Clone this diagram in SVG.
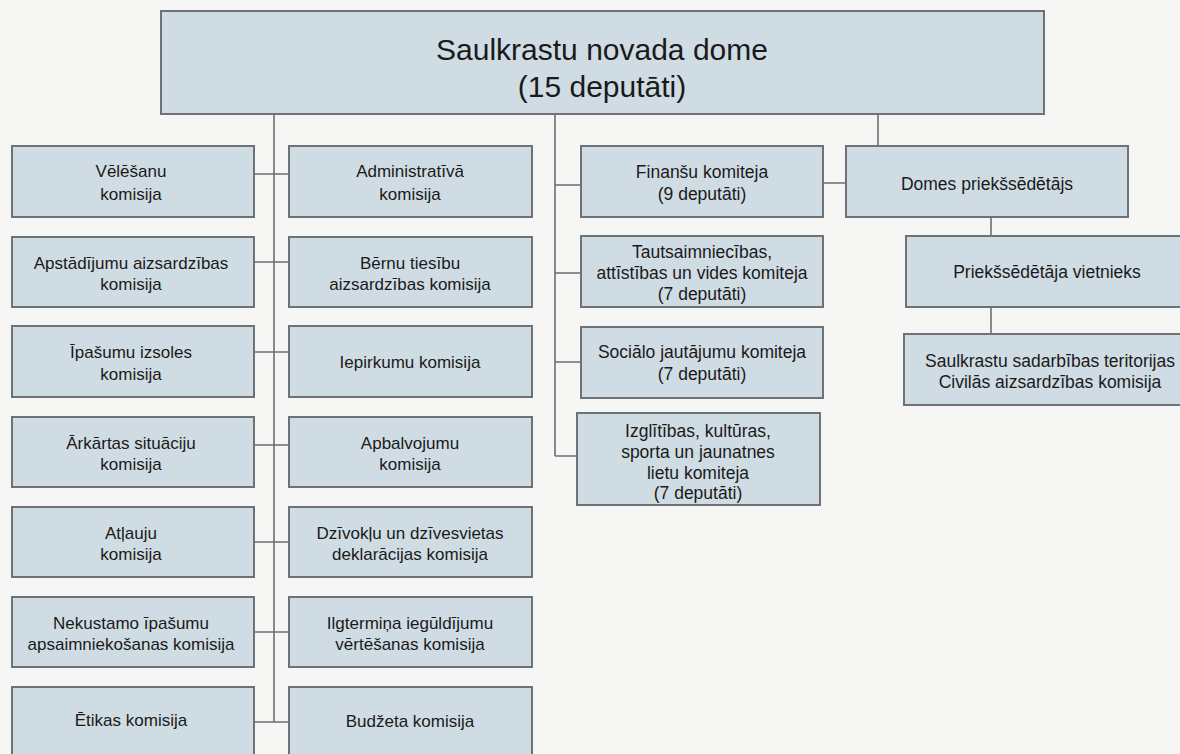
<svg xmlns="http://www.w3.org/2000/svg" width="1180" height="754" viewBox="0 0 1180 754">
<style>
.box{fill:#d0dce3;stroke:#6e7176;stroke-width:2}
.t{font-family:"Liberation Sans",Arial,sans-serif;font-size:17px;fill:#1a1a1a;text-anchor:middle}
.m{font-size:17.5px}
.title{font-size:30px}
.c{stroke:#6e6e6e;stroke-width:1.6;fill:none}
</style>
<rect width="1180" height="754" fill="#f6f6f4"/>
<g id="connectors">
<path class="c" d="M274 114V722M254 174H289M254 262H289M254 352H289M254 445H289M254 542H289M254 632H289M254 722H289"/>
<path class="c" d="M555 114V456M555 185H581M555 273H581M555 362H581M555 456H577"/>
<path class="c" d="M823 183H846M878 114V146M991 217V236M991 307V334"/>
</g>
<g id="dome"><rect class="box" x="161" y="11" width="883" height="103"/><text class="t title" x="602" y="60">Saulkrastu novada dome</text><text class="t title" x="602" y="97">(15 deputāti)</text></g>
<g id="velesanu"><rect class="box" x="12" y="146" width="242" height="71"/><text class="t" x="131" y="177">Vēlēšanu</text><text class="t" x="131" y="200">komisija</text></g>
<g id="apstadijumu"><rect class="box" x="12" y="237" width="242" height="70"/><text class="t" x="131" y="269">Apstādījumu aizsardzības</text><text class="t" x="131" y="290">komisija</text></g>
<g id="ipasumu"><rect class="box" x="12" y="326" width="242" height="71"/><text class="t" x="131" y="358">Īpašumu izsoles</text><text class="t" x="131" y="380">komisija</text></g>
<g id="arkartas"><rect class="box" x="12" y="417" width="242" height="70"/><text class="t" x="131" y="449">Ārkārtas situāciju</text><text class="t" x="131" y="470">komisija</text></g>
<g id="atlauju"><rect class="box" x="12" y="507" width="242" height="70"/><text class="t" x="131" y="539">Atļauju</text><text class="t" x="131" y="560">komisija</text></g>
<g id="nekustamo"><rect class="box" x="12" y="597" width="242" height="70"/><text class="t" x="131" y="629">Nekustamo īpašumu</text><text class="t" x="131" y="650">apsaimniekošanas komisija</text></g>
<g id="etikas"><rect class="box" x="12" y="687" width="242" height="80"/><text class="t" x="131" y="726">Ētikas komisija</text></g>
<g id="administrativa"><rect class="box" x="289" y="146" width="243" height="71"/><text class="t" x="410" y="177">Administratīvā</text><text class="t" x="410" y="200">komisija</text></g>
<g id="bernu"><rect class="box" x="289" y="237" width="243" height="70"/><text class="t" x="410" y="269">Bērnu tiesību</text><text class="t" x="410" y="290">aizsardzības komisija</text></g>
<g id="iepirkumu"><rect class="box" x="289" y="326" width="243" height="71"/><text class="t" x="410" y="368">Iepirkumu komisija</text></g>
<g id="apbalvojumu"><rect class="box" x="289" y="417" width="243" height="70"/><text class="t" x="410" y="449">Apbalvojumu</text><text class="t" x="410" y="470">komisija</text></g>
<g id="dzivoklu"><rect class="box" x="289" y="507" width="243" height="70"/><text class="t" x="410" y="539">Dzīvokļu un dzīvesvietas</text><text class="t" x="410" y="560">deklarācijas komisija</text></g>
<g id="ilgtermina"><rect class="box" x="289" y="597" width="243" height="70"/><text class="t" x="410" y="629">Ilgtermiņa iegūldījumu</text><text class="t" x="410" y="650">vērtēšanas komisija</text></g>
<g id="budzeta"><rect class="box" x="289" y="687" width="243" height="80"/><text class="t" x="410" y="727">Budžeta komisija</text></g>
<g id="finansu"><rect class="box" x="581" y="146" width="242" height="71"/><text class="t m" x="702" y="178">Finanšu komiteja</text><text class="t m" x="702" y="200">(9 deputāti)</text></g>
<g id="tautsaimniecibas"><rect class="box" x="581" y="236" width="242" height="71"/><text class="t m" x="702" y="258">Tautsaimniecības,</text><text class="t m" x="702" y="279">attīstības un vides komiteja</text><text class="t m" x="702" y="300">(7 deputāti)</text></g>
<g id="socialo"><rect class="box" x="581" y="327" width="242" height="71"/><text class="t m" x="702" y="358">Sociālo jautājumu komiteja</text><text class="t m" x="702" y="380">(7 deputāti)</text></g>
<g id="izglitibas"><rect class="box" x="577" y="413" width="243" height="92"/><text class="t m" x="698" y="437">Izglītības, kultūras,</text><text class="t m" x="698" y="458">sporta un jaunatnes</text><text class="t m" x="698" y="479">lietu komiteja</text><text class="t m" x="698" y="499">(7 deputāti)</text></g>
<g id="priekssedetajs"><rect class="box" x="846" y="146" width="282" height="71"/><text class="t m" x="987" y="190">Domes priekšsēdētājs</text></g>
<g id="vietnieks"><rect class="box" x="906" y="236" width="280" height="71"/><text class="t m" x="1047" y="278">Priekšsēdētāja vietnieks</text></g>
<g id="civilas"><rect class="box" x="904" y="334" width="290" height="71"/><text class="t m" x="1050" y="367">Saulkrastu sadarbības teritorijas</text><text class="t m" x="1050" y="388">Civilās aizsardzības komisija</text></g>
</svg>
